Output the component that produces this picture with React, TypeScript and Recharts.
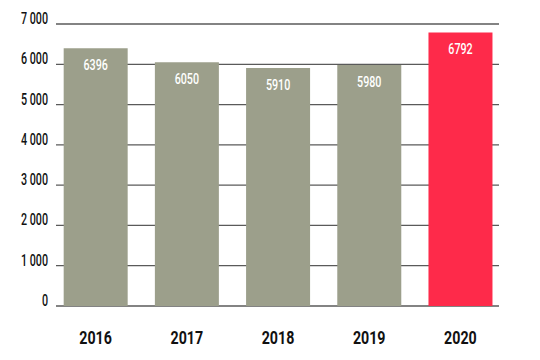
import React from "react";
import { BarChart, Bar, XAxis, YAxis, CartesianGrid, Cell, LabelList } from "recharts";

const years = ["2016", "2017", "2018", "2019", "2020"];
const values = [6396, 6050, 5910, 5980, 6792];
const barColors = ["#9c9f8b", "#9c9f8b", "#9c9f8b", "#9c9f8b", "#fe2a4a"];
const yTicks = [0, 1000, 2000, 3000, 4000, 5000, 6000, 7000];
const yTickLabels = ["0", "1 000", "2 000", "3 000", "4 000", "5 000", "6 000", "7 000"];

const data = years.map((year, i) => ({ year, value: values[i] }));

const FONT = "Roboto, 'DejaVu Sans', sans-serif";

const YTick = (props: any) => {
  const { x, y, payload } = props;
  const idx = yTicks.indexOf(payload.value);
  const label = idx >= 0 ? yTickLabels[idx] : String(payload.value);
  return (
    <g transform={`translate(${x},${y}) scale(0.67,1)`}>
      <text x={0} y={0} textAnchor="end" fontFamily={FONT} fontSize={16} fontWeight={500} fill="#111">
        {label}
      </text>
    </g>
  );
};

const XTick = (props: any) => {
  const { x, y, payload } = props;
  return (
    <g transform={`translate(${x},${y}) scale(0.79,1)`}>
      <text x={0} y={0} dy={38} textAnchor="middle" fontFamily={FONT} fontSize={18} fontWeight={700} fill="#111">
        {payload.value}
      </text>
    </g>
  );
};

const ValueLabel = (props: any) => {
  const { x, y, width, value } = props;
  const cx = Number(x) + Number(width) / 2;
  const cy = Number(y) + 22;
  return (
    <g transform={`translate(${cx},${cy}) scale(0.74,1)`}>
      <text x={0} y={0} textAnchor="middle" fontFamily={FONT} fontSize={14.5} fontWeight={500} fill="#ffffff">
        {value}
      </text>
    </g>
  );
};

const GridLine = (props: any) => {
  const { x1, x2, y1, y2 } = props;
  return <line x1={x1 + 6} x2={x2 - 7} y1={y1} y2={y2} stroke="#5a5a5a" strokeWidth={1.3} />;
};

export default function App() {
  return (
    <div style={{ position: "absolute", left: 0, top: 0, background: "#fff" }}>
      <BarChart
        width={540}
        height={360}
        data={data}
        margin={{ top: 24, right: 34, bottom: 0, left: 0 }}
        barCategoryGap="15%"
      >
        <CartesianGrid vertical={false} horizontal={GridLine as any} />
        <XAxis
          dataKey="year"
          height={54}
          axisLine={false}
          tickLine={false}
          tickSize={0}
          tickMargin={0}
          tick={<XTick />}
          interval={0}
        />
        <YAxis
          width={50}
          domain={[0, 7000]}
          ticks={yTicks}
          axisLine={false}
          tickLine={false}
          tickSize={0}
          tickMargin={2}
          tick={<YTick />}
          interval={0}
        />
        <Bar dataKey="value" isAnimationActive={false}>
          {data.map((d, i) => (
            <Cell key={d.year} fill={barColors[i]} />
          ))}
          <LabelList dataKey="value" content={<ValueLabel />} />
        </Bar>
      </BarChart>
    </div>
  );
}
